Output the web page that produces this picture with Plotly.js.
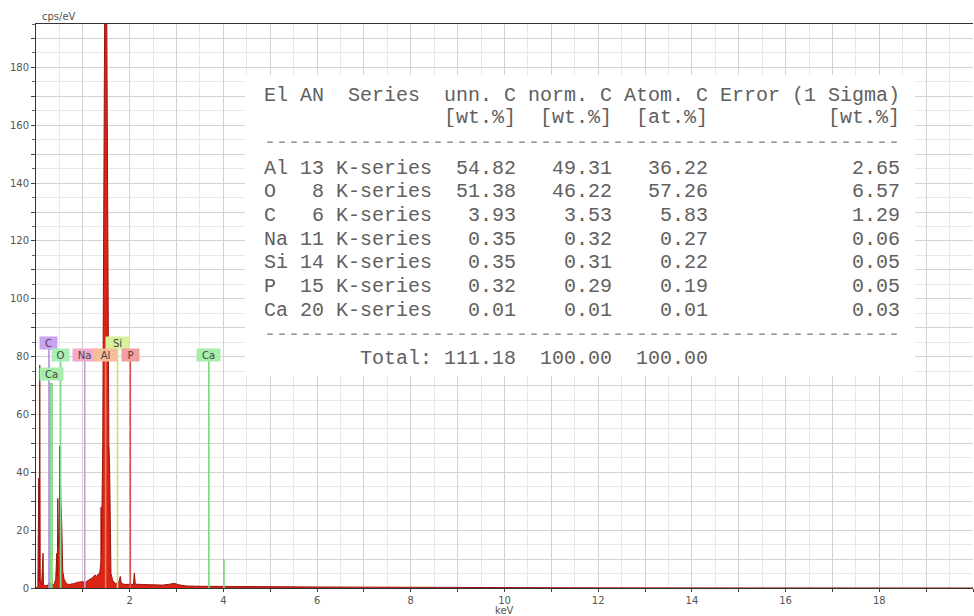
<!DOCTYPE html>
<html><head><meta charset="utf-8">
<script src="https://cdn.plot.ly/plotly-3.0.1.min.js"></script>
<style>html,body{margin:0;padding:0;background:#fff;}#chart{width:974px;height:616px;}</style>
</head><body><div id="chart"></div>
<script>
// ---------- spectrum ----------
const energyKeV = [0.00,0.04,0.06,0.07,0.08,0.09,0.12,0.15,0.16,0.20,0.26,0.28,0.30,0.34,0.38,0.42,0.445,0.455,0.465,0.48,0.50,0.51,0.53,0.55,0.57,0.60,0.65,0.70,0.80,0.90,1.00,1.05,1.10,1.20,1.26,1.30,1.34,1.36,1.385,1.39,1.398,1.41,1.425,1.435,1.45,1.465,1.48,1.495,1.51,1.525,1.54,1.555,1.57,1.585,1.60,1.64,1.70,1.76,1.80,1.82,1.90,2.00,2.08,2.10,2.12,2.30,2.50,2.70,2.85,2.95,3.05,3.20,3.50,4.00,5.00,6.00,7.00,8.00,9.00,9.50,10.0,12.0,20.0];
const countsCps = [0,0.5,38,2,77,3,1,12,1,0.8,1,2,1.5,1.5,1,3,12,4,31,14,20,49,30,22,6,3,1.5,1.2,1.5,2,2.2,1.8,2.5,3.5,4.5,4,5,5,9,28,12,30,50,90,146,189,250,250,189,146,90,50,43,15,5,2.5,1.5,1.8,4,1.6,1.2,1.3,1.2,5.2,1.3,1.2,1.0,1.0,1.3,1.6,1.1,0.7,0.6,0.5,0.4,0.35,0.3,0.25,0.2,0.25,0.1,0.05,0];

// ---------- element marker lines ----------
const lineEl  = ['Ca','Ca','C','O','Na','Al','Si','P','Ca','Ca'];
const lineKeV = [0.302,0.341,0.277,0.525,1.041,1.486,1.740,2.013,3.690,4.012];
const lineTop = [71,71,83,78.5,78.5,78.5,82.5,78.5,78.5,10];

// ---------- element labels ----------
const labelEl  = ['C','Si','O','Na','Al','P','Ca','Ca'];
const labelKeV = [0.277,1.740,0.525,1.041,1.486,2.013,3.690,0.341];
const labelCps = [84.7,84.7,80.6,80.6,80.6,80.6,80.6,74.0];

// ---------- quantification table ----------
const tElements = ['Al','O','C','Na','Si','P','Ca'];
const tAN       = [13,8,6,11,14,15,20];
const tSeries   = ['K-series','K-series','K-series','K-series','K-series','K-series','K-series'];
const tUnnC     = [54.82,51.38,3.93,0.35,0.35,0.32,0.01];
const tNormC    = [49.31,46.22,3.53,0.32,0.31,0.29,0.01];
const tAtomC    = [36.22,57.26,5.83,0.27,0.22,0.19,0.01];
const tError    = [2.65,6.57,1.29,0.06,0.05,0.05,0.03];
const tTotals   = [111.18,100.00,100.00];
const tHeader1  = 'El AN  Series  unn. C norm. C Atom. C Error (1 Sigma)';
const tUnits    = ['[wt.%]','[wt.%]','[at.%]','[wt.%]'];

// ---------- x / y tick labels ----------
const xTickVals = [1,2,3,4,5,6,7,8,9,10,11,12,13,14,15,16,17,18,19,20];
const xTickText = ['','2','','4','','6','','8','','10','','12','','14','','16','','18','','20'];
const yTickVals = [0,10,20,30,40,50,60,70,80,90,100,110,120,130,140,150,160,170,180,190];
const yTickText = ['0','','20','','40','','60','','80','','100','','120','','140','','160','','180',''];

// ---------- styles ----------
const elColor = {Ca:'#7ad87a', C:'#b48ce6', O:'#80dc90', Na:'#c6a0cc', Al:'#e8845a', Si:'#bde67c', P:'#d9534f'};
const elBg    = {Ca:'#a6eeaa', C:'#c8a4f2', O:'#a8efb6', Na:'#f4a9cc', Al:'#f6be98', Si:'#d8f29c', P:'#f29e9e'};
const NB = '\u00A0';
const sp = s => s.replace(/ /g, NB);

const traces = [{
  x: energyKeV, y: countsCps, type:'scatter', mode:'lines',
  line:{color:'#9a1410', width:1}, fill:'tozeroy', fillcolor:'#dc2414',
  hoverinfo:'skip'
}];
lineEl.forEach((el,i)=>{
  traces.push({x:[lineKeV[i],lineKeV[i]], y:[0,lineTop[i]], type:'scatter', mode:'lines',
    line:{color:elColor[el], width:1.6}, hoverinfo:'skip'});
});

const annotations = [];
labelEl.forEach((el,i)=>{
  annotations.push({x:labelKeV[i], y:labelCps[i], xref:'x', yref:'y', text:el, showarrow:false,
    font:{family:'DejaVu Sans', size:10, color:'#444'}, bgcolor:elBg[el], borderpad:0,
    width:11+6*el.length, height:12, xanchor:'center', yanchor:'middle'});
});

// table text rows (monospaced, column aligned)
const W = 937, H = 564, L = 36, T = 24;
const px2x = p => (p - L) / W;
const px2y = p => (T + H - p) / H;
const tableLeftPx = 262;
const tableFont = {family:'Liberation Mono', size:20, color:'#606060'};
function rowAnn(text, ypx, color){
  annotations.push({x:px2x(tableLeftPx), y:px2y(ypx), xref:'paper', yref:'paper', text:sp(text),
    showarrow:false, xanchor:'left', yanchor:'middle', font:Object.assign({}, tableFont, color?{color}:{})});
}
rowAnn(tHeader1, 95);
rowAnn(' '.repeat(15)+tUnits[0]+'  '+tUnits[1]+'  '+tUnits[2]+' '.repeat(10)+tUnits[3], 118);
rowAnn('-'.repeat(53), 142, '#959595');
tElements.forEach((el,i)=>{
  const s = el.padEnd(2)+' '+String(tAN[i]).padStart(2)+' '+tSeries[i]
    + tUnnC[i].toFixed(2).padStart(7) + tNormC[i].toFixed(2).padStart(8)
    + tAtomC[i].toFixed(2).padStart(8) + tError[i].toFixed(2).padStart(16);
  rowAnn(s, 168 + i*23.67);
});
rowAnn('-'.repeat(53), 335, '#959595');
rowAnn(' '.repeat(8)+'Total:'+tTotals[0].toFixed(2).padStart(7)+tTotals[1].toFixed(2).padStart(8)+tTotals[2].toFixed(2).padStart(8), 358);

annotations.push({x:0, y:1, xref:'paper', yref:'paper', text:'cps/eV', showarrow:false,
  xanchor:'left', yanchor:'bottom', xshift:4, yshift:0, font:{family:'DejaVu Sans', size:10, color:'#555'}});
annotations.push({x:0.5, y:0, xref:'paper', yref:'paper', text:'keV', showarrow:false,
  xanchor:'center', yanchor:'top', yshift:-15, font:{family:'DejaVu Sans', size:10, color:'#555'}});

const layout = {
  width:974, height:616, margin:{l:L, r:974-L-W, t:T, b:616-T-H, pad:0},
  paper_bgcolor:'#fff', plot_bgcolor:'#fff', showlegend:false,
  xaxis:{range:[0,20], tickmode:'array', tickvals:xTickVals, ticktext:xTickText,
    showgrid:true, gridcolor:'#d2d2d2', gridwidth:1, zeroline:false,
    ticks:'outside', ticklen:3, tickcolor:'#444', showline:true, linecolor:'#333', linewidth:1, mirror:true,
    minor:{tickmode:'linear', tick0:0, dtick:0.5, showgrid:true, gridcolor:'#e8e8e8', ticks:''},
    tickfont:{family:'DejaVu Sans', size:10, color:'#555'}, fixedrange:true},
  yaxis:{range:[0,195], tickmode:'array', tickvals:yTickVals, ticktext:yTickText,
    showgrid:true, gridcolor:'#d2d2d2', gridwidth:1, zeroline:false,
    ticks:'outside', ticklen:4, tickcolor:'#444', showline:true, linecolor:'#333', linewidth:1,
    minor:{tickmode:'linear', tick0:0, dtick:5, showgrid:true, gridcolor:'#e8e8e8', ticks:'outside', ticklen:3, tickcolor:'#666'},
    tickfont:{family:'DejaVu Sans', size:10, color:'#555'}, fixedrange:true},
  shapes:[{type:'rect', xref:'paper', yref:'paper', x0:px2x(245), x1:px2x(915), y0:px2y(376), y1:px2y(75),
    fillcolor:'#fff', line:{width:0}, layer:'above'}],
  annotations: annotations
};
Plotly.newPlot('chart', traces, layout, {displayModeBar:false, staticPlot:true});
</script></body></html>
